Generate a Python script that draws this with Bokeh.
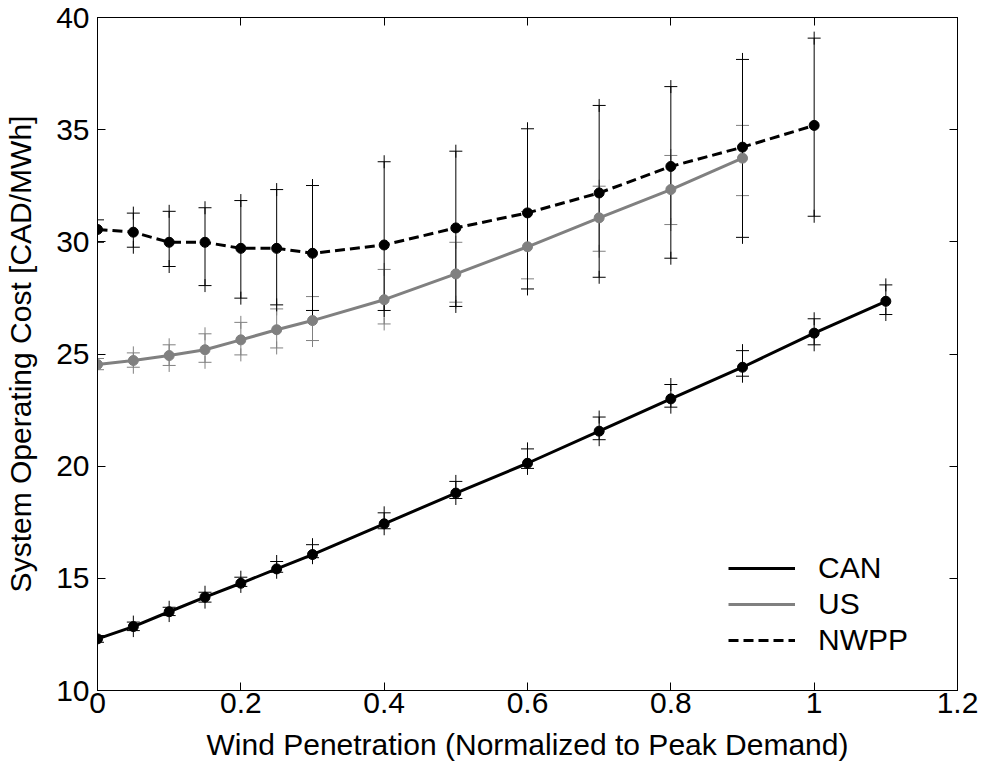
from bokeh.plotting import figure
from bokeh.models import Range1d, LinearAxis, Legend, LegendItem, FixedTicker
from bokeh.embed import file_html
from bokeh.resources import INLINE

# ---- data ----
can_x = [0, 0.05, 0.1, 0.15, 0.2, 0.25, 0.3, 0.4, 0.5, 0.6, 0.7, 0.8, 0.9, 1.0, 1.1]
can_mean = [12.30, 12.85, 13.51, 14.16, 14.78, 15.42, 16.06, 17.43, 18.80, 20.13, 21.56, 23.00, 24.41, 25.93, 27.35]
can_upper = [12.45, 13.05, 13.71, 14.38, 15.05, 15.75, 16.50, 17.92, 19.32, 20.77, 22.19, 23.64, 25.15, 26.57, 28.08]
can_lower = [12.15, 12.67, 13.34, 13.94, 14.64, 15.27, 15.92, 17.21, 18.56, 19.90, 21.18, 22.63, 24.01, 25.41, 26.76]

us_x = [0, 0.05, 0.1, 0.15, 0.2, 0.25, 0.3, 0.4, 0.5, 0.6, 0.7, 0.8, 0.9]
us_mean = [24.53, 24.71, 24.93, 25.19, 25.63, 26.08, 26.49, 27.42, 28.57, 29.78, 31.07, 32.33, 33.73]
us_upper = [24.80, 25.05, 25.41, 25.90, 26.41, 27.01, 27.56, 28.77, 29.98, 31.35, 32.48, 33.85, 35.19]
us_lower = [24.30, 24.41, 24.49, 24.63, 24.96, 25.27, 25.60, 26.34, 27.31, 28.35, 29.58, 30.77, 32.06]

nwpp_x = [0, 0.05, 0.1, 0.15, 0.2, 0.25, 0.3, 0.4, 0.5, 0.6, 0.7, 0.8, 0.9, 1.0]
nwpp_mean = [30.55, 30.43, 29.98, 29.98, 29.71, 29.71, 29.49, 29.86, 30.62, 31.29, 32.18, 33.36, 34.22, 35.19]
nwpp_upper = [30.98, 31.28, 31.36, 31.52, 31.84, 32.33, 32.51, 33.57, 34.04, 35.04, 36.08, 36.92, 38.13, 39.08]
nwpp_lower = [29.98, 29.76, 28.90, 28.05, 27.49, 27.19, 26.94, 26.94, 27.12, 27.90, 28.42, 29.27, 30.20, 31.14]

x_ticks = [0, 0.2, 0.4, 0.6, 0.8, 1.0, 1.2]
x_tick_labels = ["0", "0.2", "0.4", "0.6", "0.8", "1", "1.2"]
y_ticks = [10, 15, 20, 25, 30, 35, 40]
y_tick_labels = ["10", "15", "20", "25", "30", "35", "40"]

series_names = ["CAN", "US", "NWPP"]
x_title = "Wind Penetration (Normalized to Peak Demand)"
y_title = "System Operating Cost [CAD/MWh]"

# ---- style ----
FONT = "Liberation Sans"
FS = "30px"
GRAY = "#808080"

p = figure(width=980, height=765, output_backend="svg", toolbar_location=None,
           x_range=Range1d(0, 1.2), y_range=Range1d(10, 40),
           min_border_left=97, min_border_right=23, min_border_top=17, min_border_bottom=75)
p.xaxis.visible = False
p.yaxis.visible = False
p.grid.visible = False
p.outline_line_color = "black"
p.outline_line_width = 1
p.background_fill_color = "white"
p.border_fill_color = "white"


def style_axis(ax, ticks, labels, show_labels):
    ax.ticker = FixedTicker(ticks=ticks)
    ax.major_label_overrides = {t: l for t, l in zip(ticks, labels)}
    ax.major_tick_in = 8
    ax.major_tick_out = 0
    ax.minor_tick_in = 0
    ax.minor_tick_out = 0
    ax.axis_line_color = "black"
    ax.major_tick_line_color = "black"
    ax.major_label_text_font = FONT
    ax.major_label_text_color = "black"
    ax.axis_label_text_font = FONT
    ax.axis_label_text_font_size = FS
    ax.axis_label_text_font_style = "normal"
    ax.axis_label_text_color = "black"
    if show_labels:
        ax.major_label_text_font_size = FS
    else:
        ax.major_label_text_font_size = "0px"
        ax.major_label_standoff = 0


xb = LinearAxis(axis_label=x_title)
style_axis(xb, x_ticks, x_tick_labels, True)
xb.major_label_standoff = 2
xb.axis_label_standoff = 12
yl = LinearAxis(axis_label=y_title)
style_axis(yl, y_ticks, y_tick_labels, True)
yl.major_label_standoff = 8
yl.axis_label_standoff = 16
xt = LinearAxis()
style_axis(xt, x_ticks, x_tick_labels, False)
yr = LinearAxis()
style_axis(yr, y_ticks, y_tick_labels, False)
p.add_layout(xb, "below")
p.add_layout(yl, "left")
p.add_layout(xt, "above")
p.add_layout(yr, "right")

# ---- error bars ----
def errbars(x, lo, hi, color):
    p.segment(x0=x, y0=lo, x1=x, y1=hi, line_color=color, line_width=1)
    p.scatter(x=x, y=hi, marker="cross", size=13, line_color=color, line_width=1)
    p.scatter(x=x, y=lo, marker="cross", size=13, line_color=color, line_width=1)

errbars(us_x, us_lower, us_upper, GRAY)
errbars(nwpp_x, nwpp_lower, nwpp_upper, "black")
errbars(can_x, can_lower, can_upper, "black")

# ---- lines and markers ----
r_can = p.line(can_x, can_mean, line_color="black", line_width=3)
p.scatter(can_x, can_mean, size=10, fill_color="black", line_color="black")
r_us = p.line(us_x, us_mean, line_color=GRAY, line_width=3)
p.scatter(us_x, us_mean, size=10, fill_color=GRAY, line_color=GRAY)
r_nwpp = p.line(nwpp_x, nwpp_mean, line_color="black", line_width=3, line_dash="10 5")
p.scatter(nwpp_x, nwpp_mean, size=10, fill_color="black", line_color="black")

legend = Legend(items=[LegendItem(label=series_names[0], renderers=[r_can]),
                       LegendItem(label=series_names[1], renderers=[r_us]),
                       LegendItem(label=series_names[2], renderers=[r_nwpp])],
                location=(621, 22), orientation="vertical",
                border_line_alpha=0, background_fill_alpha=0,
                label_text_font=FONT, label_text_font_size=FS, label_text_color="black",
                glyph_width=67, glyph_height=36, label_height=36, spacing=0,
                padding=10, margin=0, label_standoff=23)
p.add_layout(legend, "center")

open("out.html", "w").write(file_html(p, INLINE))
